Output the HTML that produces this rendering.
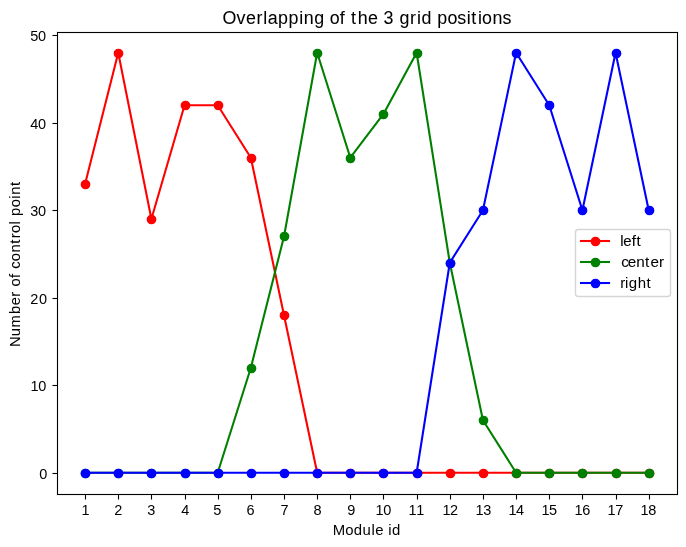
<!DOCTYPE html><html><head><meta charset="utf-8"><style>html,body{margin:0;padding:0;background:#fff;overflow:hidden}svg{display:block;will-change:transform}text{font-family:"Liberation Sans",sans-serif;fill:#000}</style></head><body>
<svg width="686" height="547" viewBox="0 0 686 547">
<rect x="0" y="0" width="686" height="547" fill="#fff"/>
<defs><clipPath id="ax"><rect x="57" y="32" width="621" height="463"/></clipPath></defs>
<g clip-path="url(#ax)">
<polyline points="85.085,183.972 118.240,52.722 151.395,218.972 184.550,105.222 217.705,105.222 250.860,157.722 284.015,315.222 317.170,472.722 350.325,472.722 383.480,472.722 416.635,472.722 449.790,472.722 482.946,472.722 516.101,472.722 549.256,472.722 582.411,472.722 615.566,472.722 648.721,472.722" fill="none" stroke="#ff0000" stroke-width="2.0833" stroke-linejoin="round" stroke-linecap="square"/>
<circle cx="85.5" cy="184.5" r="4.1667" fill="#ff0000" stroke="#ff0000" stroke-width="1.3889"/>
<circle cx="118.5" cy="53.5" r="4.1667" fill="#ff0000" stroke="#ff0000" stroke-width="1.3889"/>
<circle cx="151.5" cy="219.5" r="4.1667" fill="#ff0000" stroke="#ff0000" stroke-width="1.3889"/>
<circle cx="185.5" cy="105.5" r="4.1667" fill="#ff0000" stroke="#ff0000" stroke-width="1.3889"/>
<circle cx="218.5" cy="105.5" r="4.1667" fill="#ff0000" stroke="#ff0000" stroke-width="1.3889"/>
<circle cx="251.5" cy="158.5" r="4.1667" fill="#ff0000" stroke="#ff0000" stroke-width="1.3889"/>
<circle cx="284.5" cy="315.5" r="4.1667" fill="#ff0000" stroke="#ff0000" stroke-width="1.3889"/>
<circle cx="317.5" cy="473.5" r="4.1667" fill="#ff0000" stroke="#ff0000" stroke-width="1.3889"/>
<circle cx="350.5" cy="473.5" r="4.1667" fill="#ff0000" stroke="#ff0000" stroke-width="1.3889"/>
<circle cx="383.5" cy="473.5" r="4.1667" fill="#ff0000" stroke="#ff0000" stroke-width="1.3889"/>
<circle cx="417.5" cy="473.5" r="4.1667" fill="#ff0000" stroke="#ff0000" stroke-width="1.3889"/>
<circle cx="450.5" cy="473.5" r="4.1667" fill="#ff0000" stroke="#ff0000" stroke-width="1.3889"/>
<circle cx="483.5" cy="473.5" r="4.1667" fill="#ff0000" stroke="#ff0000" stroke-width="1.3889"/>
<circle cx="516.5" cy="473.5" r="4.1667" fill="#ff0000" stroke="#ff0000" stroke-width="1.3889"/>
<circle cx="549.5" cy="473.5" r="4.1667" fill="#ff0000" stroke="#ff0000" stroke-width="1.3889"/>
<circle cx="582.5" cy="473.5" r="4.1667" fill="#ff0000" stroke="#ff0000" stroke-width="1.3889"/>
<circle cx="616.5" cy="473.5" r="4.1667" fill="#ff0000" stroke="#ff0000" stroke-width="1.3889"/>
<circle cx="649.5" cy="473.5" r="4.1667" fill="#ff0000" stroke="#ff0000" stroke-width="1.3889"/>
<polyline points="85.085,472.722 118.240,472.722 151.395,472.722 184.550,472.722 217.705,472.722 250.860,367.722 284.015,236.472 317.170,52.722 350.325,157.722 383.480,113.972 416.635,52.722 449.790,262.722 482.946,420.222 516.101,472.722 549.256,472.722 582.411,472.722 615.566,472.722 648.721,472.722" fill="none" stroke="#008000" stroke-width="2.0833" stroke-linejoin="round" stroke-linecap="square"/>
<circle cx="85.5" cy="473.5" r="4.1667" fill="#008000" stroke="#008000" stroke-width="1.3889"/>
<circle cx="118.5" cy="473.5" r="4.1667" fill="#008000" stroke="#008000" stroke-width="1.3889"/>
<circle cx="151.5" cy="473.5" r="4.1667" fill="#008000" stroke="#008000" stroke-width="1.3889"/>
<circle cx="185.5" cy="473.5" r="4.1667" fill="#008000" stroke="#008000" stroke-width="1.3889"/>
<circle cx="218.5" cy="473.5" r="4.1667" fill="#008000" stroke="#008000" stroke-width="1.3889"/>
<circle cx="251.5" cy="368.5" r="4.1667" fill="#008000" stroke="#008000" stroke-width="1.3889"/>
<circle cx="284.5" cy="236.5" r="4.1667" fill="#008000" stroke="#008000" stroke-width="1.3889"/>
<circle cx="317.5" cy="53.5" r="4.1667" fill="#008000" stroke="#008000" stroke-width="1.3889"/>
<circle cx="350.5" cy="158.5" r="4.1667" fill="#008000" stroke="#008000" stroke-width="1.3889"/>
<circle cx="383.5" cy="114.5" r="4.1667" fill="#008000" stroke="#008000" stroke-width="1.3889"/>
<circle cx="417.5" cy="53.5" r="4.1667" fill="#008000" stroke="#008000" stroke-width="1.3889"/>
<circle cx="450.5" cy="263.5" r="4.1667" fill="#008000" stroke="#008000" stroke-width="1.3889"/>
<circle cx="483.5" cy="420.5" r="4.1667" fill="#008000" stroke="#008000" stroke-width="1.3889"/>
<circle cx="516.5" cy="473.5" r="4.1667" fill="#008000" stroke="#008000" stroke-width="1.3889"/>
<circle cx="549.5" cy="473.5" r="4.1667" fill="#008000" stroke="#008000" stroke-width="1.3889"/>
<circle cx="582.5" cy="473.5" r="4.1667" fill="#008000" stroke="#008000" stroke-width="1.3889"/>
<circle cx="616.5" cy="473.5" r="4.1667" fill="#008000" stroke="#008000" stroke-width="1.3889"/>
<circle cx="649.5" cy="473.5" r="4.1667" fill="#008000" stroke="#008000" stroke-width="1.3889"/>
<polyline points="85.085,472.722 118.240,472.722 151.395,472.722 184.550,472.722 217.705,472.722 250.860,472.722 284.015,472.722 317.170,472.722 350.325,472.722 383.480,472.722 416.635,472.722 449.790,262.722 482.946,210.222 516.101,52.722 549.256,105.222 582.411,210.222 615.566,52.722 648.721,210.222" fill="none" stroke="#0000ff" stroke-width="2.0833" stroke-linejoin="round" stroke-linecap="square"/>
<circle cx="85.5" cy="473.5" r="4.1667" fill="#0000ff" stroke="#0000ff" stroke-width="1.3889"/>
<circle cx="118.5" cy="473.5" r="4.1667" fill="#0000ff" stroke="#0000ff" stroke-width="1.3889"/>
<circle cx="151.5" cy="473.5" r="4.1667" fill="#0000ff" stroke="#0000ff" stroke-width="1.3889"/>
<circle cx="185.5" cy="473.5" r="4.1667" fill="#0000ff" stroke="#0000ff" stroke-width="1.3889"/>
<circle cx="218.5" cy="473.5" r="4.1667" fill="#0000ff" stroke="#0000ff" stroke-width="1.3889"/>
<circle cx="251.5" cy="473.5" r="4.1667" fill="#0000ff" stroke="#0000ff" stroke-width="1.3889"/>
<circle cx="284.5" cy="473.5" r="4.1667" fill="#0000ff" stroke="#0000ff" stroke-width="1.3889"/>
<circle cx="317.5" cy="473.5" r="4.1667" fill="#0000ff" stroke="#0000ff" stroke-width="1.3889"/>
<circle cx="350.5" cy="473.5" r="4.1667" fill="#0000ff" stroke="#0000ff" stroke-width="1.3889"/>
<circle cx="383.5" cy="473.5" r="4.1667" fill="#0000ff" stroke="#0000ff" stroke-width="1.3889"/>
<circle cx="417.5" cy="473.5" r="4.1667" fill="#0000ff" stroke="#0000ff" stroke-width="1.3889"/>
<circle cx="450.5" cy="263.5" r="4.1667" fill="#0000ff" stroke="#0000ff" stroke-width="1.3889"/>
<circle cx="483.5" cy="210.5" r="4.1667" fill="#0000ff" stroke="#0000ff" stroke-width="1.3889"/>
<circle cx="516.5" cy="53.5" r="4.1667" fill="#0000ff" stroke="#0000ff" stroke-width="1.3889"/>
<circle cx="549.5" cy="105.5" r="4.1667" fill="#0000ff" stroke="#0000ff" stroke-width="1.3889"/>
<circle cx="582.5" cy="210.5" r="4.1667" fill="#0000ff" stroke="#0000ff" stroke-width="1.3889"/>
<circle cx="616.5" cy="53.5" r="4.1667" fill="#0000ff" stroke="#0000ff" stroke-width="1.3889"/>
<circle cx="649.5" cy="210.5" r="4.1667" fill="#0000ff" stroke="#0000ff" stroke-width="1.3889"/>
</g>
<g fill="#f1f1f1">
<rect x="56" y="31" width="623" height="3"/><rect x="56" y="493" width="623" height="3"/><rect x="56" y="31" width="3" height="465"/><rect x="676" y="31" width="3" height="465"/>
<rect x="84" y="495" width="3" height="4.4"/>
<rect x="117" y="495" width="3" height="4.4"/>
<rect x="150" y="495" width="3" height="4.4"/>
<rect x="184" y="495" width="3" height="4.4"/>
<rect x="217" y="495" width="3" height="4.4"/>
<rect x="250" y="495" width="3" height="4.4"/>
<rect x="283" y="495" width="3" height="4.4"/>
<rect x="316" y="495" width="3" height="4.4"/>
<rect x="349" y="495" width="3" height="4.4"/>
<rect x="382" y="495" width="3" height="4.4"/>
<rect x="416" y="495" width="3" height="4.4"/>
<rect x="449" y="495" width="3" height="4.4"/>
<rect x="482" y="495" width="3" height="4.4"/>
<rect x="515" y="495" width="3" height="4.4"/>
<rect x="548" y="495" width="3" height="4.4"/>
<rect x="581" y="495" width="3" height="4.4"/>
<rect x="615" y="495" width="3" height="4.4"/>
<rect x="648" y="495" width="3" height="4.4"/>
<rect x="52.6" y="472" width="4.4" height="3"/>
<rect x="52.6" y="384" width="4.4" height="3"/>
<rect x="52.6" y="297" width="4.4" height="3"/>
<rect x="52.6" y="209" width="4.4" height="3"/>
<rect x="52.6" y="122" width="4.4" height="3"/>
<rect x="52.6" y="34" width="4.4" height="3"/>
</g>
<g fill="#000">
<rect x="57" y="32" width="621" height="1"/><rect x="57" y="494" width="621" height="1"/><rect x="57" y="32" width="1" height="463"/><rect x="677" y="32" width="1" height="463"/>
<rect x="85" y="494" width="1" height="5.5"/>
<rect x="118" y="494" width="1" height="5.5"/>
<rect x="151" y="494" width="1" height="5.5"/>
<rect x="185" y="494" width="1" height="5.5"/>
<rect x="218" y="494" width="1" height="5.5"/>
<rect x="251" y="494" width="1" height="5.5"/>
<rect x="284" y="494" width="1" height="5.5"/>
<rect x="317" y="494" width="1" height="5.5"/>
<rect x="350" y="494" width="1" height="5.5"/>
<rect x="383" y="494" width="1" height="5.5"/>
<rect x="417" y="494" width="1" height="5.5"/>
<rect x="450" y="494" width="1" height="5.5"/>
<rect x="483" y="494" width="1" height="5.5"/>
<rect x="516" y="494" width="1" height="5.5"/>
<rect x="549" y="494" width="1" height="5.5"/>
<rect x="582" y="494" width="1" height="5.5"/>
<rect x="616" y="494" width="1" height="5.5"/>
<rect x="649" y="494" width="1" height="5.5"/>
<rect x="52.5" y="473" width="5" height="1"/>
<rect x="52.5" y="385" width="5" height="1"/>
<rect x="52.5" y="298" width="5" height="1"/>
<rect x="52.5" y="210" width="5" height="1"/>
<rect x="52.5" y="123" width="5" height="1"/>
<rect x="52.5" y="35" width="5" height="1"/>
</g>
<text x="81.45" y="514.50" font-size="14.50">1</text>
<text x="114.36" y="514.50" font-size="14.50">2</text>
<text x="147.26" y="514.50" font-size="14.50">3</text>
<text x="181.17" y="514.50" font-size="14.50">4</text>
<text x="213.32" y="514.50" font-size="14.50">5</text>
<text x="246.48" y="514.50" font-size="14.50">6</text>
<text x="280.38" y="514.50" font-size="14.50">7</text>
<text x="313.54" y="514.50" font-size="14.50">8</text>
<text x="347.19" y="514.50" font-size="14.50">9</text>
<text x="375.57 383.13" y="514.50" font-size="14.50">10</text>
<text x="408.47 416.29" y="514.50" font-size="14.50">11</text>
<text x="442.38 449.94" y="514.50" font-size="14.50">12</text>
<text x="475.53 483.35" y="514.50" font-size="14.50">13</text>
<text x="508.44 516.00" y="514.50" font-size="14.50">14</text>
<text x="541.59 548.91" y="514.50" font-size="14.50">15</text>
<text x="574.50 582.31" y="514.50" font-size="14.50">16</text>
<text x="607.40 615.22" y="514.50" font-size="14.50">17</text>
<text x="640.56 648.37" y="514.50" font-size="14.50">18</text>
<text x="39.24" y="478.60" font-size="14.50">0</text>
<text x="30.42 38.24" y="390.60" font-size="14.50">10</text>
<text x="30.17 38.99" y="303.60" font-size="14.50">20</text>
<text x="30.17 37.99" y="215.60" font-size="14.50">30</text>
<text x="30.17 37.99" y="128.60" font-size="14.50">40</text>
<text x="30.17 37.99" y="40.60" font-size="14.50">50</text>
<text x="222.57 236.50 246.04 256.56 263.27 267.70 278.07 288.62 299.18 303.79 314.33 324.43 329.68 339.87 345.74 351.04 357.69 368.07 378.31 383.46 394.17 399.61 409.99 417.00 421.62 432.01 437.15 447.51 457.13 466.85 471.32 477.98 482.10 492.46 502.56" y="24.00" font-size="17.85" stroke="#000" stroke-width="0.050">Overlapping of the 3 grid positions</text>
<text transform="scale(1.0300 1)" x="323.17 335.10 343.50 352.04 360.60 364.20 372.50 376.92 380.64" y="535.00" font-size="14.50">Module id</text>
<text transform="translate(20.45 346.90) rotate(-90) scale(0.9850 1)" x="-0.14 10.83 19.78 33.49 42.29 50.89 56.74 61.21 70.08 74.80 79.24 87.01 95.78 104.79 110.33 115.61 124.38 128.16 132.78 141.87 150.33 154.55 163.26" y="0" font-size="15.00" stroke="#000" stroke-width="0.050">Number of control point</text>
<rect x="575.5" y="229.5" width="95" height="67" rx="2.78" ry="2.78" fill="#fff" stroke="#d6d6d6" stroke-width="1.3889"/>
<path d="M579.95 241.00H610.05" stroke="#ff0000" stroke-width="2.0833"/>
<circle cx="595.5" cy="241.5" r="4.1667" fill="#ff0000" stroke="#ff0000" stroke-width="1.3889"/>
<text x="620.20 623.30 631.79 636.40" y="245.50" font-size="14.95" stroke="#000" stroke-width="0.100">left</text>
<path d="M579.95 262.00H610.05" stroke="#008000" stroke-width="2.0833"/>
<circle cx="595.5" cy="262.5" r="4.1667" fill="#008000" stroke="#008000" stroke-width="1.3889"/>
<text transform="scale(0.9850 1)" x="630.69 637.24 646.04 654.81 660.36 669.01" y="266.75" font-size="15.50" stroke="#000" stroke-width="0.050">center</text>
<path d="M579.95 283.00H610.05" stroke="#0000ff" stroke-width="2.0833"/>
<circle cx="595.5" cy="283.5" r="4.1667" fill="#0000ff" stroke="#0000ff" stroke-width="1.3889"/>
<text x="620.29 625.00 628.83 637.63 646.53" y="287.50" font-size="15.00">right</text>
</svg></body></html>
